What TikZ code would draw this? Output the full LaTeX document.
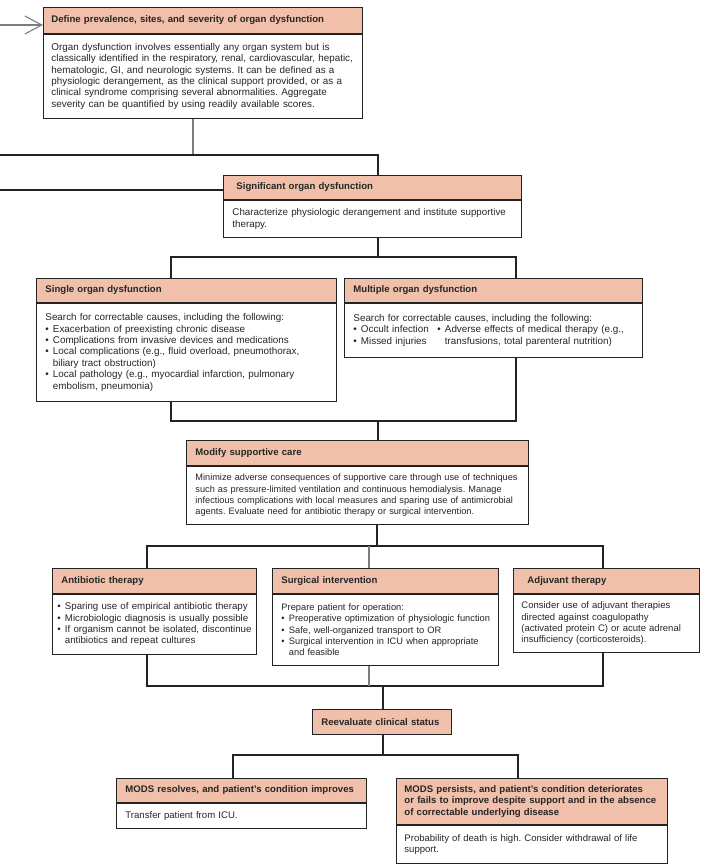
\documentclass[tikz,border=0pt]{standalone}
\usepackage{fontspec}
\setmainfont{Liberation Sans}
\usetikzlibrary{arrows.meta}
\definecolor{salmon}{RGB}{240,192,170}
\definecolor{txt}{RGB}{38,38,38}
\definecolor{linec}{RGB}{35,35,35}
\definecolor{gline}{RGB}{125,125,125}
\newcommand\bfs[1]{\fontsize{#1}{11.4}\selectfont\frenchspacing}
\newcommand\headfont{\fontsize{9.6}{11.4}\selectfont\bfseries\frenchspacing}
\newcommand\bu{\makebox[7.5pt][l]{•}}
\newcommand\bi{\hspace*{7.5pt}}
\newcommand\rl[1]{\mbox{#1}\\}
\frenchspacing
\begin{document}
\begin{tikzpicture}[x=1pt,y=-1pt,
  hdr/.style={draw=linec, fill=salmon, line width=0.9pt, anchor=north west, inner xsep=8pt, inner ysep=0pt, align=left, font=\headfont, text=txt},
  bdy/.style={draw=linec, fill=white, line width=0.9pt, anchor=north west, inner xsep=8pt, inner ysep=0pt, align=left, font=\bfs{9.85}, text=txt},
  conn/.style={draw=linec, line width=2.2pt},
  gconn/.style={draw=gline, line width=1.1pt}]
\useasboundingbox (0,0) rectangle (713,867);

% ---------- boxes ----------
\node[hdr, text width=303pt, minimum height=26pt] (h1) at (43,7) {Define prevalence, sites, and severity of organ dysfunction};
\node[bdy, text width=303pt, minimum height=84pt] (b1) at (h1.south west) {%
\rl{Organ dysfunction involves essentially any organ system but is}
\rl{classically identified in the respiratory, renal, cardiovascular, hepatic,}
\rl{hematologic, GI, and neurologic systems. It can be defined as a}
\rl{physiologic derangement, as the clinical support provided, or as a}
\rl{clinical syndrome comprising several abnormalities. Aggregate}
\mbox{severity can be quantified by using readily available scores.}};

\node[hdr, inner xsep=13pt, text width=272pt, minimum height=24pt] (h2) at (223,175) {Significant organ dysfunction};
\node[bdy, inner xsep=9pt, text width=280pt, minimum height=37pt, font=\bfs{9.8}] (b2) at (h2.south west) {%
\rl{Characterize physiologic derangement and institute supportive}
\mbox{therapy.}};

\node[hdr, inner xsep=9pt, text width=282pt, minimum height=24pt] (h3) at (36,278) {Single organ dysfunction};
\node[bdy, inner xsep=9pt, text width=282pt, minimum height=98pt] (b3) at (h3.south west) {%
\rl{Search for correctable causes, including the following:}
\rl{\bu Exacerbation of preexisting chronic disease}
\rl{\bu Complications from invasive devices and medications}
\rl{\bu Local complications (e.g., fluid overload, pneumothorax,}
\rl{\bi biliary tract obstruction)}
\rl{\bu Local pathology (e.g., myocardial infarction, pulmonary}
\mbox{\bi embolism, pneumonia)}};

\node[hdr, inner xsep=9pt, text width=280pt, minimum height=24pt] (h4) at (344,278) {Multiple organ dysfunction};
\node[bdy, inner xsep=9pt, text width=280pt, minimum height=54pt] (b4) at (h4.south west) {%
\rl{Search for correctable causes, including the following:}
\rl{\makebox[84pt][l]{\bu Occult infection}\bu Adverse effects of medical therapy (e.g.,}
\mbox{\makebox[84pt][l]{\bu Missed injuries}\bi transfusions, total parenteral nutrition)}};

\node[hdr, inner xsep=9pt, text width=324pt, minimum height=25pt] (h5) at (186,440) {Modify supportive care};
\node[bdy, inner xsep=9pt, text width=324pt, minimum height=58pt, font=\bfs{9.2}] (b5) at (h5.south west) {%
\rl{Minimize adverse consequences of supportive care through use of techniques}
\rl{such as pressure-limited ventilation and continuous hemodialysis. Manage}
\rl{infectious complications with local measures and sparing use of antimicrobial}
\mbox{agents. Evaluate need for antibiotic therapy or surgical intervention.}};

\node[hdr, inner xsep=9pt, text width=186pt, minimum height=25pt] (h6) at (52,568) {Antibiotic therapy};
\node[bdy, inner xsep=5pt, text width=194pt, minimum height=60pt, font=\bfs{9.7}] (b6) at (h6.south west) {%
\rl{\bu Sparing use of empirical antibiotic therapy}
\rl{\bu Microbiologic diagnosis is usually possible}
\rl{\bu If organism cannot be isolated, discontinue}
\mbox{\bi antibiotics and repeat cultures}};

\node[hdr, inner xsep=9pt, text width=208pt, minimum height=25pt] (h7) at (272,568) {Surgical intervention};
\node[bdy, inner xsep=9pt, text width=208pt, minimum height=71pt, font=\bfs{9.3}] (b7) at (h7.south west) {%
\rl{Prepare patient for operation:}
\rl{\bu Preoperative optimization of physiologic function}
\rl{\bu Safe, well-organized transport to OR}
\rl{\bu Surgical intervention in ICU when appropriate}
\mbox{\bi and feasible}};

\node[hdr, inner xsep=14pt, text width=158pt, minimum height=25pt] (h8) at (513,568) {Adjuvant therapy};
\node[bdy, inner xsep=8pt, text width=170pt, minimum height=58pt, font=\bfs{9.5}] (b8) at (h8.south west) {%
\rl{Consider use of adjuvant therapies}
\rl{directed against coagulopathy}
\rl{(activated protein C) or acute adrenal}
\mbox{insufficiency (corticosteroids).}};

\node[hdr, inner xsep=9pt, text width=121pt, minimum height=25pt] (h9) at (312,709) {Reevaluate clinical status};

\node[hdr, inner xsep=9pt, text width=232pt, minimum height=24pt] (h10) at (116,778) {MODS resolves, and patient’s condition improves};
\node[bdy, inner xsep=9pt, text width=232pt, minimum height=25pt, font=\bfs{9.6}] (b10) at (h10.south west) {Transfer patient from ICU.};

\node[hdr, inner xsep=8pt, text width=255pt, minimum height=46pt] (h11) at (396,778) {%
\rl{MODS persists, and patient’s condition deteriorates}
\rl{or fails to improve despite support and in the absence}
\mbox{of correctable underlying disease}};
\node[bdy, inner xsep=8pt, text width=255pt, minimum height=38pt, font=\bfs{9.55}] (b11) at (h11.south west) {%
\rl{Probability of death is high. Consider withdrawal of life}
\mbox{support.}};

% ---------- connectors ----------
\coordinate (A0) at (0,25);
\draw[gconn, -{Straight Barb[length=17pt,width=18pt,line width=1.1pt]}] (A0) -- (A0 -| h1.west);
\coordinate (J1) at (193,155);
\draw[gconn] (b1.south -| J1) -- (J1);
\coordinate (L1) at (0,155);
\coordinate (K1) at (378,155);
\draw[conn] (L1) -- (K1) -- (K1 |- h2.north);
\coordinate (L2) at (0,190);
\draw[conn] (L2) -- (L2 -| h2.west);

\coordinate (J2) at (378,257);
\coordinate (J2l) at (171,257);
\coordinate (J2r) at (516,257);
\draw[conn] (b2.south -| J2) -- (J2);
\draw[conn] (J2l |- h3.north) -- (J2l) -- (J2r) -- (J2r |- h4.north);

\coordinate (J3) at (378,421);
\coordinate (J3l) at (171,421);
\coordinate (J3r) at (516,421);
\draw[conn] (b3.south -| J3l) -- (J3l) -- (J3r) -- (b4.south -| J3r);
\draw[conn] (J3) -- (J3 |- h5.north);

\coordinate (J4) at (377,546);
\coordinate (J4l) at (147,546);
\coordinate (J4r) at (603,546);
\coordinate (J4m) at (369,546);
\draw[conn] (b5.south -| J4) -- (J4);
\draw[conn] (J4l |- h6.north) -- (J4l) -- (J4r) -- (J4r |- h8.north);
\draw[gconn] (J4m) -- (J4m |- h7.north);

\coordinate (J5) at (383,686);
\coordinate (J5l) at (147,686);
\coordinate (J5r) at (603,686);
\coordinate (J5m) at (369,686);
\draw[conn] (b6.south -| J5l) -- (J5l) -- (J5r) -- (b8.south -| J5r);
\draw[gconn] (b7.south -| J5m) -- (J5m);
\draw[conn] (J5) -- (J5 |- h9.north);

\coordinate (J6) at (383,755);
\coordinate (J6l) at (233,755);
\coordinate (J6r) at (518,755);
\draw[conn] (h9.south -| J6) -- (J6);
\draw[conn] (J6l |- h10.north) -- (J6l) -- (J6r) -- (J6r |- h11.north);
\end{tikzpicture}
\end{document}
